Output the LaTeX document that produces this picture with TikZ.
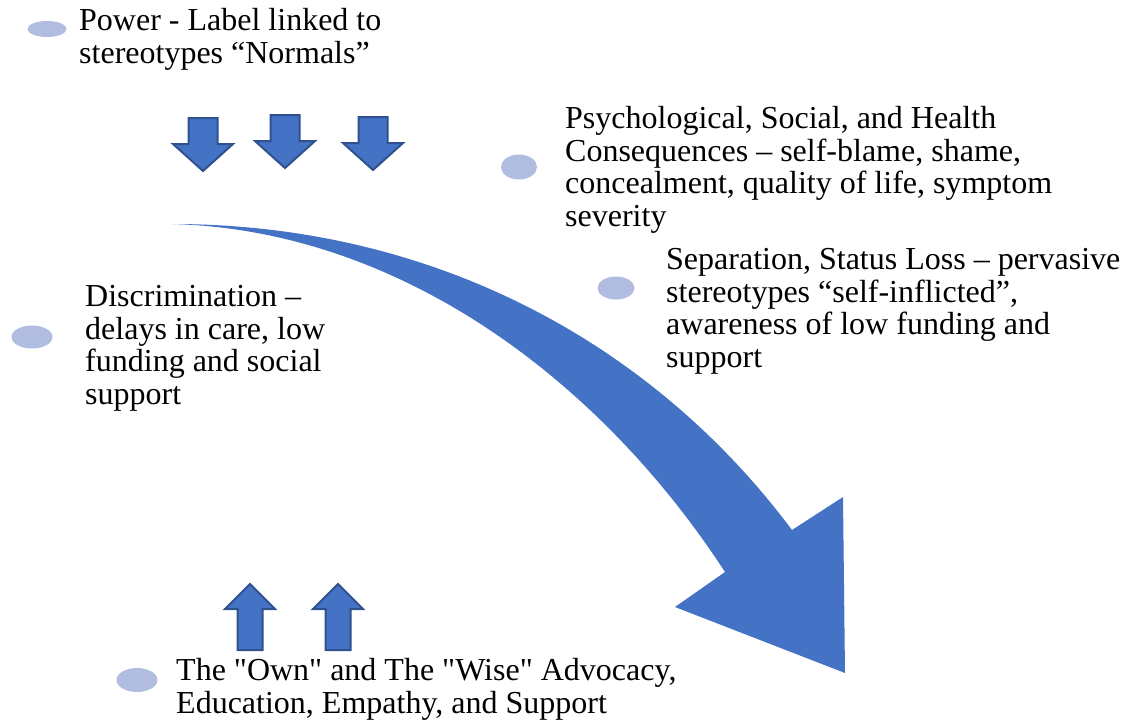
\documentclass[tikz,border=0pt]{standalone}
\usepackage{fontspec}
\setmainfont{Liberation Serif}
\usetikzlibrary{shapes.geometric,positioning}

\definecolor{arrowblue}{RGB}{68,114,196}
\definecolor{arrowedge}{RGB}{47,82,143}
\definecolor{bulletblue}{RGB}{176,188,224}

\tikzset{
	bulletdot/.style={ellipse, fill=bulletblue, inner sep=0pt},
	caption/.style={anchor=north west, inner sep=0pt, align=left,
		font=\fontsize{32}{32.7}\selectfont},
	blockarrow/.style={fill=arrowblue, draw=arrowedge, line width=2pt},
}

\begin{document}
\begin{tikzpicture}[x=1pt, y=-1pt]
\useasboundingbox (0,0) rectangle (1130,721);

% the big curved arrow
\fill [arrowblue] (172,224) .. controls (430,224) and (650,340) .. (792,530)
	-- (843,497) -- (845,673) -- (675,607) -- (725,572)
	.. controls (600,380) and (400,230) .. (172,224) -- cycle;

% pressure from above
\foreach \x/\y in {203/118, 285/115, 373/117}
\draw [blockarrow] (\x-14.5,\y) -- (\x+14.5,\y) -- (\x+14.5,\y+26) -- (\x+30,\y+26)
	-- (\x,\y+53) -- (\x-30,\y+26) -- (\x-14.5,\y+26) -- cycle;

% support from below
\foreach \x in {250, 338}
\draw [blockarrow] (\x,584) -- (\x+25,609) -- (\x+12.5,609) -- (\x+12.5,650)
	-- (\x-12.5,650) -- (\x-12.5,609) -- (\x-25,609) -- cycle;

% bullets
\node [bulletdot, minimum width=39pt, minimum height=16pt] (dotpower) at (47,29) {};
\node [bulletdot, minimum width=36pt, minimum height=25pt] (dotpsych) at (519,167) {};
\node [bulletdot, minimum width=37pt, minimum height=23pt] (dotsep) at (616,288) {};
\node [bulletdot, minimum width=41pt, minimum height=23pt] (dotdisc) at (32,337) {};
\node [bulletdot, minimum width=41pt, minimum height=24pt] (dotown) at (137,680) {};

% texts
\node [caption] (power) at (79,8) {Power - Label linked to\\stereotypes “Normals”};
\node [caption] (psych) at (565,106) {Psychological, Social, and Health\\
	Consequences -- self-blame, shame,\\concealment, quality of life, symptom\\severity};
\node [caption] (sep) at (666,248) {Separation, Status Loss -- pervasive\\
	stereotypes “self-inflicted”,\\awareness of low funding and\\support};
\node [caption] (disc) at (85,285) {Discrimination --\\delays in care, low\\
	funding and social\\support};
\node [caption] (own) at (176,658) {The \textquotedbl Own\textquotedbl{} and The
	\textquotedbl Wise\textquotedbl{} Advocacy,\\Education, Empathy, and Support};
\end{tikzpicture}
\end{document}
